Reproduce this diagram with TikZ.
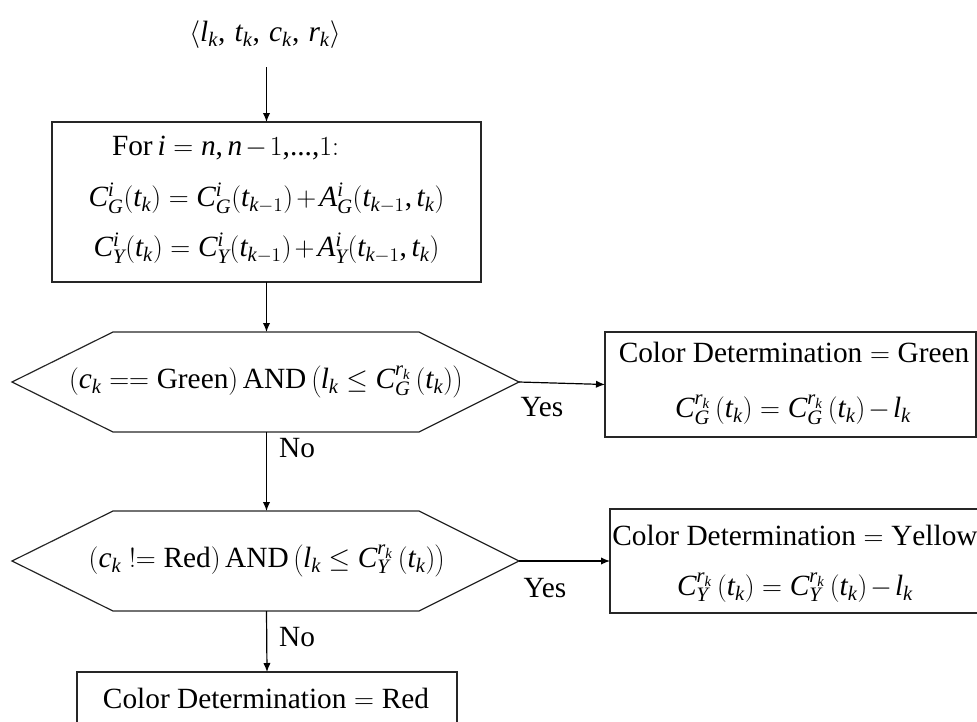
\documentclass[tikz,border=0pt]{standalone}
\usepackage{fontspec}
\setmainfont{Liberation Serif}
\DeclareSymbolFont{letters}{TU}{\rmdefault}{m}{it}
\mathcode`,="602C
\mathcode`.="002E
\usetikzlibrary{arrows.meta}
\newcommand{\myeqeq}{\mathrel{==}}
\newcommand{\myneq}{\mathrel{!{=}}}
\begin{document}
\begin{tikzpicture}[x=0.75pt,y=-0.75pt,
  every node/.style={font=\fontsize{22}{26}\selectfont, inner sep=0pt, outer sep=0pt},
  rectbox/.style={draw=black!85, line width=0.9pt},
  hexline/.style={draw=black!85, line width=0.9pt},
  arr/.style={-{Latex[length=6.75pt,width=5.5pt]}, line width=0.9pt},
  lbl/.style={}]
\useasboundingbox (0,0) rectangle (977,721);
\clip (0,0) rectangle (977,721);

% boxes
\node[rectbox, minimum width=321.75pt, minimum height=120pt] (forbox) at (266.5,202) {};
\node[rectbox, minimum width=278.25pt, minimum height=78.75pt] (greenbox) at (790.5,384.5) {};
\node[rectbox, minimum width=285pt, minimum height=78pt] (yellowbox) at (800,561) {};
\node[rectbox, minimum width=285pt, minimum height=73.5pt] (redbox) at (267,721) {};

% hexagon 1
\coordinate (h1W) at (12,382);
\coordinate (h1E) at (519,382);
\coordinate (h1N) at (266.5,332);
\coordinate (h1S) at (266.5,432);
\draw[hexline] (h1W) -- (113,332) -- (419,332) -- (h1E) -- (419,432) -- (113,432) -- cycle;
% hexagon 2
\coordinate (h2W) at (12,561);
\coordinate (h2E) at (519,561);
\coordinate (h2N) at (266.5,511);
\coordinate (h2S) at (266.5,611);
\draw[hexline] (h2W) -- (113,511) -- (419,511) -- (h2E) -- (419,611) -- (113,611) -- cycle;

% texts
\node (title) at (265,35) {$\left\langle l_k,\,t_k,\,c_k,\,r_k\right\rangle$};
\node[anchor=west] (forL1) at (112,148) {For\,$i=n,n\mkern-2mu-\mkern-2mu1{,}{.}{.}{.}{,}1{:}$};
\node (forL2) at (266.5,198) {$C_G^i(t_k)=C_G^i(t_{k-1})\mkern-2mu+\mkern-2mu A_G^i(t_{k-1},t_k)$};
\node (forL3) at (266.5,248) {$C_Y^i(t_k)=C_Y^i(t_{k-1})\mkern-2mu+\mkern-2mu A_Y^i(t_{k-1},t_k)$};
\node (h1txt) at (266,382) {$\left(c_k\myeqeq\mathrm{Green}\right)\mathrm{AND}\left(l_k\le C_G^{r_k}\,(t_k)\right)$};
\node (h2txt) at (267,561) {$\left(c_k\myneq\mathrm{Red}\right)\mathrm{AND}\left(l_k\le C_Y^{r_k}\,(t_k)\right)$};
\node (gL1) at (794,352) {$\mathrm{Color\ Determination}=\mathrm{Green}$};
\node (gL2) at (793,410) {$C_G^{r_k}\,(t_k)=C_G^{r_k}\,(t_k)\mkern-2mu-\mkern-2mu l_k$};
\node (yL1) at (795,535) {$\mathrm{Color\ Determination}=\mathrm{Yellow}$};
\node (yL2) at (795,588) {$C_Y^{r_k}\,(t_k)=C_Y^{r_k}\,(t_k)\mkern-2mu-\mkern-2mu l_k$};
\node (rL1) at (266,698) {$\mathrm{Color\ Determination}=\mathrm{Red}$};

% labels
\node[lbl] (yes1) at (542,407) {Yes};
\node[lbl] (yes2) at (545,588) {Yes};
\node[lbl] (no1) at (297,448) {No};
\node[lbl] (no2) at (297,637) {No};

% connectors
\coordinate (tA) at (266.5,67);
\draw[arr] (tA) -- (forbox.north);
\draw[arr] (forbox.south) -- (h1N);
\draw[arr] (h1S) -- (h2N);
\draw[arr] (h2S) -- (redbox.north);
\draw[arr] (h1E) -- (greenbox.west);
\draw[arr] (h2E) -- (yellowbox.west);
\end{tikzpicture}
\end{document}
